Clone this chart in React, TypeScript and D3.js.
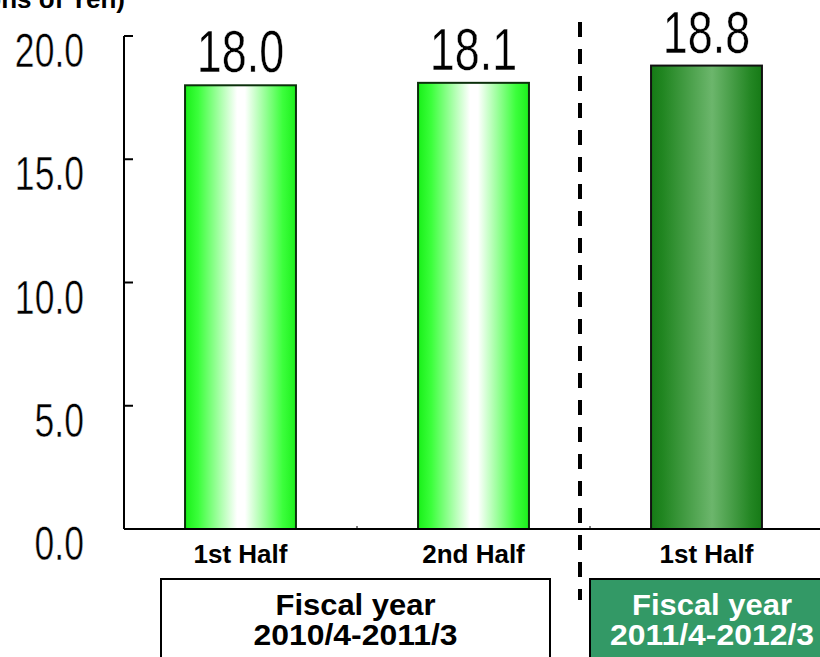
import React from "react";
import * as d3 from "d3";

// Half-year values, billions of yen
const periods = ["FY10 H1", "FY10 H2", "FY11 H1"];
const periodLabels = ["1st Half", "2nd Half", "1st Half"];
const values = [18.0, 18.1, 18.8];
const yTicks = [0, 5, 10, 15, 20];
const fiscalYears = [
  { title: "Fiscal year", range: "2010/4-2011/3", first: 0, last: 1 },
  { title: "Fiscal year", range: "2011/4-2012/3", first: 2, last: 2 },
];

const W = 820;
const H = 657;

export default function App() {
  const x0 = 124;
  const x1 = 823;
  const yBase = 529;
  const yTop = 36;

  const x = d3
    .scaleBand<string>()
    .domain(periods)
    .range([x0, x1])
    .paddingInner(0.524)
    .paddingOuter(0.262);
  const band = d3.scaleBand<string>().domain(periods).range([x0, x1]).padding(0);
  const y = d3.scaleLinear().domain([0, 20]).range([yBase, yTop]);

  // condensed numerals: regular sans squeezed horizontally, lightly thinned by a white outline
  const numFont = "'Liberation Sans', Arial, sans-serif";
  const boldFont = "'Liberation Sans', Arial, sans-serif";

  return (
    <svg
      width={W}
      height={H}
      style={{ position: "absolute", left: 0, top: 0, background: "#fff" }}
    >
      <defs>
        <linearGradient id="lightBar" x1="0" x2="1" y1="0" y2="0">
          <stop offset="0%" stopColor="#18f018" />
          <stop offset="12%" stopColor="#3cff3c" />
          <stop offset="47%" stopColor="#ffffff" />
          <stop offset="54%" stopColor="#ffffff" />
          <stop offset="88%" stopColor="#3cff3c" />
          <stop offset="100%" stopColor="#1cf01c" />
        </linearGradient>
        <linearGradient id="darkBar" x1="0" x2="1" y1="0" y2="0">
          <stop offset="0%" stopColor="#167a16" />
          <stop offset="10%" stopColor="#208520" />
          <stop offset="55%" stopColor="#6cb66c" />
          <stop offset="90%" stopColor="#238623" />
          <stop offset="100%" stopColor="#167a16" />
        </linearGradient>
      </defs>

      {/* unit label */}
      <text
        x={125}
        y={8}
        textAnchor="end"
        fontFamily={boldFont}
        fontWeight="bold"
        fontSize={26}
        fill="#000"
      >
        (Billions of Yen)
      </text>

      {/* y axis */}
      <line x1={x0} x2={x0} y1={y(20)} y2={yBase} stroke="#000" strokeWidth={2} />
      {yTicks.map((t) => (
        <g key={t}>
          <line x1={x0} x2={x0 + 9} y1={y(t)} y2={y(t)} stroke="#000" strokeWidth={2} />
          <g transform={`translate(84, ${y(t) + 31}) scale(0.74, 1)`}>
            <text
              x={0}
              y={0}
              textAnchor="end"
              fontFamily={numFont}
              fontSize={48}
              fill="#000"
              stroke="#fff"
              strokeWidth={0.5}
            >
              {t.toFixed(1)}
            </text>
          </g>
        </g>
      ))}

      {/* bars */}
      {periods.map((p, i) => (
        <rect
          key={p}
          x={x(p)!}
          y={y(values[i])}
          width={x.bandwidth()}
          height={yBase - y(values[i])}
          fill={i < 2 ? "url(#lightBar)" : "url(#darkBar)"}
          stroke={i < 2 ? "#0b300b" : "#111"}
          strokeWidth={2}
        />
      ))}

      {/* value labels */}
      {periods.map((p, i) => (
        <g
          key={p}
          transform={`translate(${x(p)! + x.bandwidth() / 2}, ${y(values[i]) - 13}) scale(0.76, 1)`}
        >
          <text
            x={0}
            y={0}
            textAnchor="middle"
            fontFamily={numFont}
            fontSize={59}
            fill="#000"
            stroke="#fff"
            strokeWidth={0.5}
          >
            {values[i].toFixed(1)}
          </text>
        </g>
      ))}

      {/* x axis */}
      <line x1={x0} x2={W} y1={yBase} y2={yBase} stroke="#000" strokeWidth={2} />
      {periods.slice(1).map((p) => (
        <line
          key={p}
          x1={band(p)!}
          x2={band(p)!}
          y1={yBase}
          y2={yBase - 3}
          stroke="#000"
          strokeWidth={1}
        />
      ))}

      {/* category labels */}
      {periods.map((p, i) => (
        <text
          key={p}
          x={x(p)! + x.bandwidth() / 2}
          y={563}
          textAnchor="middle"
          fontFamily={boldFont}
          fontWeight="bold"
          fontSize={26}
          fill="#000"
        >
          {periodLabels[i]}
        </text>
      ))}

      {/* fiscal year divider */}
      <line
        x1={580}
        x2={580}
        y1={22}
        y2={600}
        stroke="#000"
        strokeWidth={4}
        strokeDasharray="15 12"
      />

      {/* fiscal year boxes */}
      {fiscalYears.map((fy, i) => {
        const left = i === 0 ? 161 : 590;
        const right = i === 0 ? 550 : 834;
        const cx = i === 0 ? (left + right) / 2 : 712;
        const dark = i === 1;
        return (
          <g key={fy.range}>
            <rect
              x={left}
              y={579}
              width={right - left}
              height={H - 579 + 10}
              fill={dark ? "#339966" : "#fff"}
              stroke="#000"
              strokeWidth={2}
            />
            <text
              x={cx}
              y={615}
              textAnchor="middle"
              fontFamily={boldFont}
              fontWeight="bold"
              fontSize={30}
              textLength={160}
              lengthAdjust="spacingAndGlyphs"
              fill={dark ? "#fff" : "#000"}
            >
              {fy.title}
            </text>
            <text
              x={cx}
              y={645}
              textAnchor="middle"
              fontFamily={boldFont}
              fontWeight="bold"
              fontSize={29}
              textLength={204}
              lengthAdjust="spacingAndGlyphs"
              fill={dark ? "#fff" : "#000"}
            >
              {fy.range}
            </text>
          </g>
        );
      })}
    </svg>
  );
}
